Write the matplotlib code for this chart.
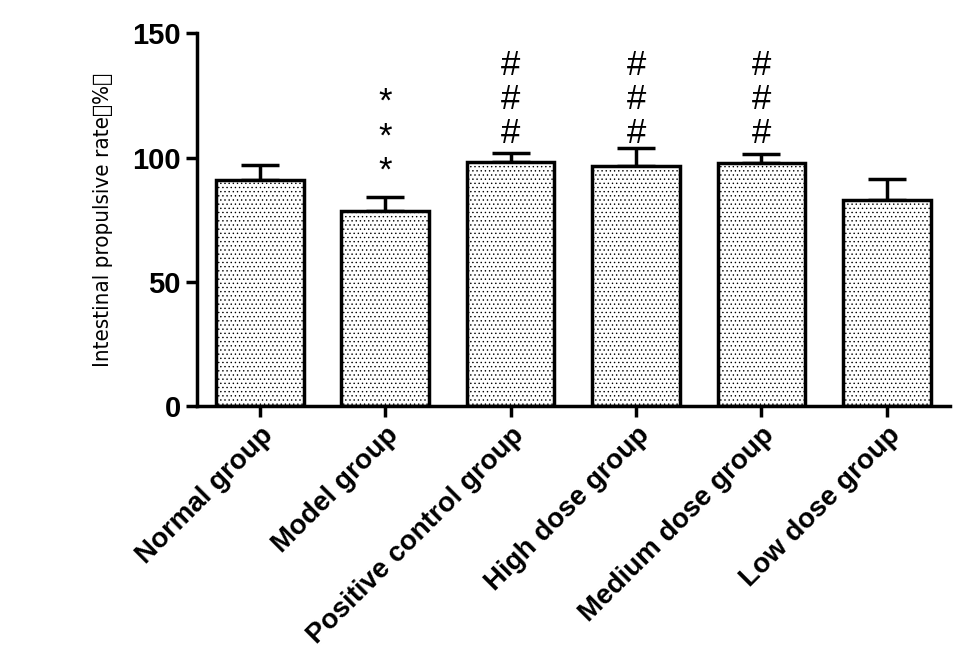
import matplotlib
matplotlib.use("Agg")
import matplotlib.pyplot as plt

groups = ["Normal group", "Model group", "Positive control group",
          "High dose group", "Medium dose group", "Low dose group"]
means = [90.9, 78.4, 98.1, 96.5, 97.7, 82.8]
errs = [6.0, 5.6, 3.9, 7.2, 3.6, 8.5]
marks = ["", "*\n*\n*", "#\n#\n#", "#\n#\n#", "#\n#\n#", ""]

plt.rcParams["font.family"] = ["Liberation Sans"]
plt.rcParams["hatch.color"] = "#888888"
plt.rcParams["hatch.linewidth"] = 0.5

fig = plt.figure(figsize=(9.68, 6.66), dpi=100)
ax = fig.add_axes([0.2035, 0.39, 0.7775, 0.56])
x = list(range(len(groups)))
ax.bar(x, means, width=0.7, color="white", edgecolor="black", linewidth=2.5,
       hatch="....", zorder=2)
ax.errorbar(x, means, yerr=[[0]*len(errs), errs], fmt="none", ecolor="black",
            elinewidth=2.5, capsize=14, capthick=2.5, zorder=1)
for xi, m, e, t in zip(x, means, errs, marks):
    if t:
        ax.text(xi, 103 if t[0] == "#" else 88, t, ha="center", va="bottom",
                fontsize=25, linespacing=1.05)
ax.set_xlim(-0.5, 5.5)
ax.set_ylim(0, 150)
ax.set_yticks([0, 50, 100, 150])
ax.set_xticks(x)
ax.set_xticklabels(groups, rotation=45, ha="right", rotation_mode="anchor",
                   fontsize=20, fontweight="bold")
for lab in ax.get_yticklabels():
    lab.set_fontsize(21)
    lab.set_fontweight("bold")
ax.tick_params(width=2.5, length=8)
for s in ["top", "right"]:
    ax.spines[s].set_visible(False)
for s in ["left", "bottom"]:
    ax.spines[s].set_linewidth(2.5)
ax.set_ylabel("Intestinal propulsive rate（%）", fontsize=16, labelpad=14,
              fontfamily="Noto Sans CJK SC", fontstretch="condensed")
fig.savefig("out.png", dpi=100)
